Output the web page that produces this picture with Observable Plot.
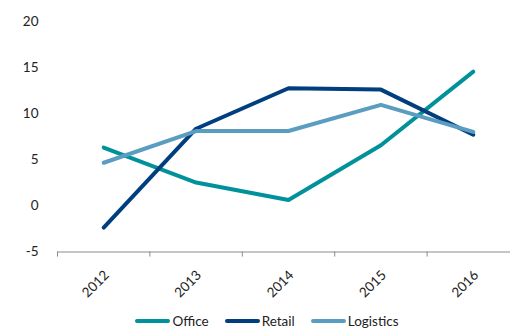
<!DOCTYPE html>
<html><head><meta charset="utf-8">
<script src="https://cdn.jsdelivr.net/npm/d3@7"></script>
<script src="https://cdn.jsdelivr.net/npm/@observablehq/plot@0.6"></script>
<style>
body{margin:0;background:#fff;font-family:Lato,"Open Sans",sans-serif;}
#legend{display:flex;justify-content:center;align-items:center;height:26px;font-size:13.5px;color:#222;margin-left:24px;margin-top:3px}
.item{display:flex;align-items:center;margin:0 8px}
.sw{width:35px;height:4px;border-radius:2px;margin-right:2px}
</style></head>
<body><div id="chart"></div><div id="legend"></div>
<script>
const years = [2012, 2013, 2014, 2015, 2016];
const seriesNames = ["Office", "Retail", "Logistics"];
const office = [6.35, 2.55, 0.65, 6.6, 14.6];
const retail = [-2.35, 8.4, 12.8, 12.65, 7.75];
const logistics = [4.7, 8.15, 8.15, 11.0, 8.05];
const yTicks = [-5, 0, 5, 10, 15, 20];
const colors = ["#00919a", "#003e7e", "#5b9dc0"];

const values = [office, retail, logistics];
const data = [];
seriesNames.forEach((s, k) => years.forEach((y, i) => data.push({series: s, year: y, value: values[k][i]})));
const bounds = years.map(y => y - 0.5).concat([years[years.length - 1] + 0.5]);

const plot = Plot.plot({
  width: 510, height: 305,
  marginLeft: 57, marginRight: -9, marginTop: 21.5, marginBottom: 53.5,
  style: {fontFamily: "Lato, 'Open Sans', sans-serif", fontSize: "13.5px", color: "#222", overflow: "visible"},
  x: {domain: [2011.5, 2016.5], axis: null},
  y: {domain: [-5, 20], axis: null},
  color: {domain: seriesNames, range: colors},
  marks: [
    Plot.axisY(yTicks, {label: null, tickSize: 0, tickPadding: 0, dx: -19, fontSize: 13.5, tickFormat: d => String(d)}),
    Plot.ruleY([-5], {stroke: "#8c8c8c", strokeWidth: 1.2, x1: 2011.5, x2: 2016.5}),
    Plot.ruleX(bounds, {x: d => d, y1: -5, y2: -5.55, stroke: "#8c8c8c"}),
    Plot.line(data, {x: "year", y: "value", z: "series", stroke: "series", strokeWidth: 4, strokeLinecap: "round", strokeLinejoin: "round"}),
    Plot.text(years, {x: d => d, y: -5, text: d => String(d), rotate: -45, textAnchor: "end", dx: 3, dy: 21, fontSize: 13.5, fill: "#222"})
  ]
});
document.getElementById("chart").appendChild(plot);

const leg = document.getElementById("legend");
seriesNames.forEach((s, k) => {
  const it = document.createElement("div"); it.className = "item";
  const sw = document.createElement("div"); sw.className = "sw"; sw.style.background = colors[k];
  const t = document.createElement("span"); t.textContent = s;
  it.appendChild(sw); it.appendChild(t); leg.appendChild(it);
});
</script></body></html>
